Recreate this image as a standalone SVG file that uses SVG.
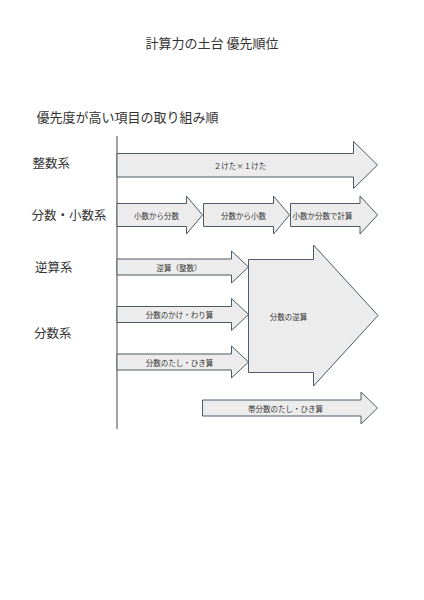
<svg xmlns="http://www.w3.org/2000/svg" width="424" height="600" viewBox="0 0 424 600">
<style>
text{font-family:"Noto Sans CJK JP","Noto Sans",sans-serif;fill:#333;dominant-baseline:central}
.t{font-size:13px;text-anchor:middle}
.lab{font-size:12.5px}
.s{font-size:7.5px;text-anchor:middle}
.arr{fill:#ececec;stroke:#4d5b66;stroke-width:1}
</style>
<rect width="424" height="600" fill="#fff"/>
<text class="t" x="212" y="42">計算力の土台 優先順位</text>
<text class="t" x="127.5" y="116">優先度が高い項目の取り組み順</text>
<g id="connectors"><line x1="117" y1="136" x2="117" y2="429" stroke="#666" stroke-width="1.2"/></g>
<g id="labels">
<text class="lab" x="32.5" y="162">整数系</text>
<text class="lab" x="31.5" y="214">分数・小数系</text>
<text class="lab" x="35" y="266">逆算系</text>
<text class="lab" x="34" y="332">分数系</text>
</g>
<g id="n1"><polygon class="arr" points="117,153.5 353.5,153.5 353.5,141.5 377.5,165 353.5,188.5 353.5,177 117,177"/><text class="s" x="240" y="165">２けた×１けた</text></g>
<g id="n2"><polygon class="arr" points="117,203.5 186.5,203.5 186.5,196 202.5,215 186.5,234 186.5,226.5 117,226.5"/><text class="s" x="156.5" y="215">小数から分数</text></g>
<g id="n3"><polygon class="arr" points="203.5,203.5 273.5,203.5 273.5,196 289.5,215 273.5,234 273.5,226.5 203.5,226.5"/><text class="s" x="243.5" y="215">分数から小数</text></g>
<g id="n4"><polygon class="arr" points="290.5,203.5 360,203.5 360,196 377.5,215 360,234 360,226.5 290.5,226.5"/><text class="s" x="322.5" y="215">小数か分数で計算</text></g>
<g id="n5"><polygon class="arr" points="117,259 231.5,259 231.5,251 248.5,267 231.5,283 231.5,275 117,275"/><text class="s" x="179" y="267">逆算（整数）</text></g>
<g id="n6"><polygon class="arr" points="117,306.5 231.5,306.5 231.5,298.5 248.5,314.5 231.5,330.5 231.5,322.5 117,322.5"/><text class="s" x="179.5" y="314.5">分数のかけ・わり算</text></g>
<g id="n7"><polygon class="arr" points="117,354 231.5,354 231.5,346 248.5,362 231.5,378 231.5,370 117,370"/><text class="s" x="179.5" y="362">分数のたし・ひき算</text></g>
<g id="n8"><polygon class="arr" points="248.5,259.5 313.5,259.5 313.5,245 378,315.5 313.5,386 313.5,372.5 248.5,372.5"/><text class="s" x="288.5" y="316">分数の逆算</text></g>
<g id="n9"><polygon class="arr" points="202.5,400 361,400 361,392 377.5,408 361,424 361,416 202.5,416"/><text class="s" x="285.5" y="408">帯分数のたし・ひき算</text></g>
</svg>
